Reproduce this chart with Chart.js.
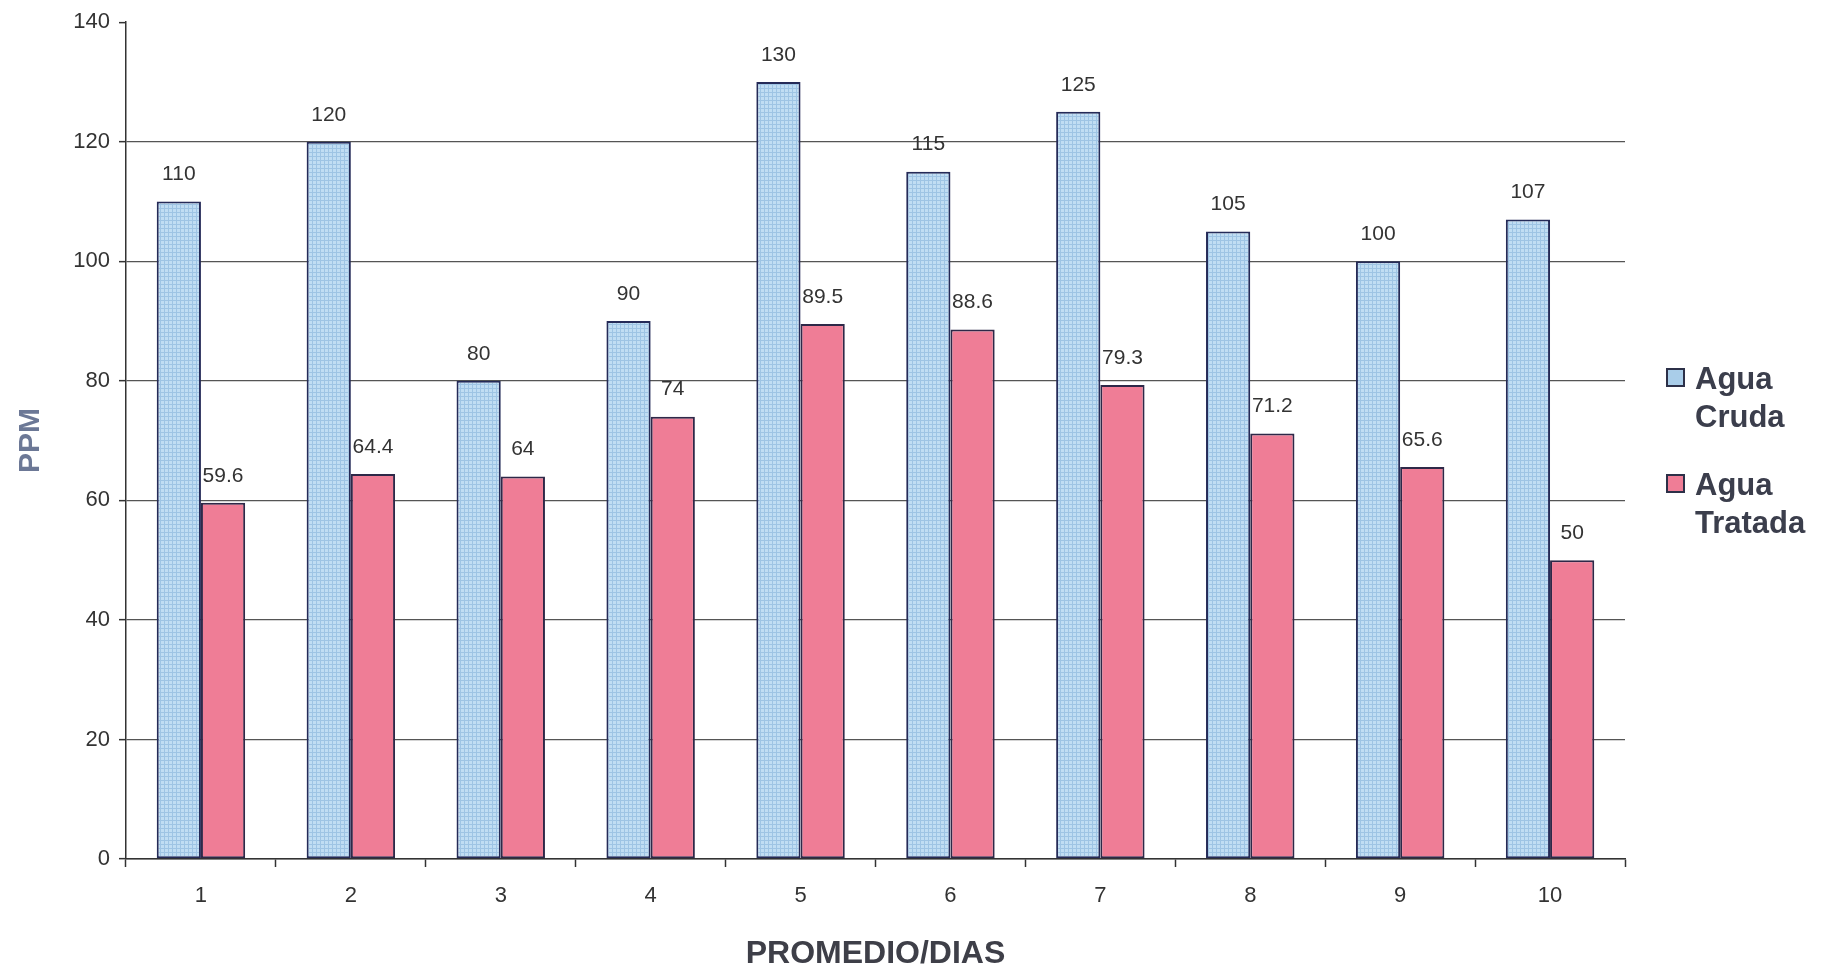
<!DOCTYPE html>
<html>
<head>
<meta charset="utf-8">
<title>PPM por día</title>
<script src="https://cdn.jsdelivr.net/npm/chart.js@4.4.0/dist/chart.umd.min.js"></script>
<style>
  html, body { margin: 0; padding: 0; background: #ffffff; }
  #wrap { position: relative; width: 1840px; height: 973px; }
  #legend { position: absolute; left: 1666px; top: 360px; font-family: "Liberation Sans", Arial, sans-serif; }
  .item { position: relative; padding-left: 29px; margin-bottom: 30px; font-weight: bold; font-size: 31px; line-height: 38px; color: #3b3e4c; }
  .sw { position: absolute; left: 0; top: 8px; width: 19px; height: 19px; border: 2px solid #2c3048; box-sizing: border-box; }
</style>
</head>
<body>
<div id="wrap">
  <canvas id="ppmChart" width="1840" height="973"></canvas>
  <div id="legend"></div>
</div>
<script>
// =========================
// DATA
// =========================

const dias = ['1', '2', '3', '4', '5', '6', '7', '8', '9', '10'];

const aguaCruda = [110, 120, 80, 90, 130, 115, 125, 105, 100, 107];

const aguaTratada = [59.6, 64.4, 64, 74, 89.5, 88.6, 79.3, 71.2, 65.6, 50];

const serieNombres = [['Agua', 'Cruda'], ['Agua', 'Tratada']];

const yTicks = [0, 20, 40, 60, 80, 100, 120, 140];


// =========================
// FILLS
// =========================

function gridPattern(base, line) {
  const c = document.createElement('canvas');
  c.width = 4;
  c.height = 4;
  const g = c.getContext('2d');
  g.fillStyle = base;
  g.fillRect(0, 0, 4, 4);
  g.fillStyle = line;
  g.fillRect(0, 0, 4, 1);
  g.fillRect(0, 0, 1, 4);
  return g.createPattern(c, 'repeat');
}

const ctx = document.getElementById('ppmChart').getContext('2d');

const azul = gridPattern('#c0ddf3', '#9ec4e4');
const rosa = '#ef7d96';


// =========================
// VALUE LABELS
// =========================

const valueLabels = {
  id: 'valueLabels',
  afterDatasetsDraw(chart) {
    const c = chart.ctx;
    c.save();
    c.font = '21px "Liberation Sans", Arial, sans-serif';
    c.fillStyle = '#333333';
    c.textAlign = 'center';
    c.textBaseline = 'middle';
    chart.data.datasets.forEach((ds, i) => {
      chart.getDatasetMeta(i).data.forEach((bar, j) => {
        c.fillText(String(ds.data[j]), bar.x, bar.y - 27);
      });
    });
    c.restore();
  }
};


// =========================
// CHART
// =========================

const chart = new Chart(ctx, {

  type: 'bar',

  data: {
    labels: dias,
    datasets: [
      {
        label: serieNombres[0].join(' '),
        data: aguaCruda,
        backgroundColor: azul,
        borderColor: '#252b58',
        borderWidth: 2,
        borderSkipped: false
      },
      {
        label: serieNombres[1].join(' '),
        data: aguaTratada,
        backgroundColor: rosa,
        borderColor: '#2e2848',
        borderWidth: 2,
        borderSkipped: false
      }
    ]
  },

  options: {
    responsive: false,
    animation: false,
    layout: {
      padding: { top: 22, right: 215, bottom: 0, left: 0 }
    },
    datasets: {
      bar: { categoryPercentage: 0.59, barPercentage: 1 }
    },
    plugins: {
      legend: { display: false },
      tooltip: { enabled: false }
    },
    scales: {
      x: {
        afterFit: s => { s.height = 114; },
        grid: {
          offset: true,
          drawOnChartArea: false,
          tickLength: 8,
          tickColor: '#333333',
          tickWidth: 1.5
        },
        border: { color: '#333333', width: 1.5 },
        ticks: {
          padding: 16,
          color: '#333333',
          font: { family: '"Liberation Sans", Arial, sans-serif', size: 22 }
        },
        title: {
          display: true,
          text: 'PROMEDIO/DIAS',
          color: '#3e3f48',
          padding: { top: 0, bottom: 0 },
          font: { family: '"Liberation Sans", Arial, sans-serif', size: 32, weight: 'bold' }
        }
      },
      y: {
        min: 0,
        max: 140,
        afterFit: s => { s.width = 126; },
        afterBuildTicks: s => { s.ticks = yTicks.map(v => ({ value: v })); },
        grid: {
          color: c => (c.tick && c.tick.value === 140 ? 'rgba(0,0,0,0)' : '#555555'),
          lineWidth: 1.3,
          tickLength: 7,
          tickColor: '#333333',
          tickWidth: 1.5
        },
        border: { color: '#333333', width: 1.5 },
        ticks: {
          padding: 9,
          color: '#333333',
          font: { family: '"Liberation Sans", Arial, sans-serif', size: 22 }
        },
        title: {
          display: true,
          text: 'PPM',
          color: '#6c7896',
          padding: { top: 13, bottom: 0 },
          font: { family: '"Liberation Sans", Arial, sans-serif', size: 30, weight: 'bold' }
        }
      }
    }
  },

  plugins: [valueLabels]
});


// =========================
// LEGEND
// =========================

const legend = document.getElementById('legend');

chart.data.datasets.forEach((ds, i) => {
  const sw = i === 0 ? '#a9cde9' : rosa;
  legend.innerHTML += `
    <div class="item">
      <span class="sw" style="background:${sw}"></span>
      ${serieNombres[i].join('<br>')}
    </div>
  `;
});
</script>
</body>
</html>
